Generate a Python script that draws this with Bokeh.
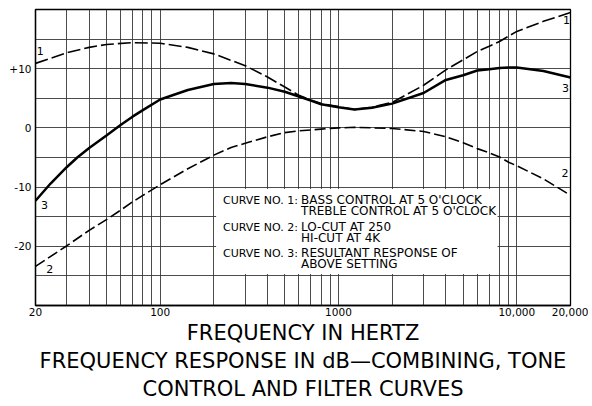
from bokeh.plotting import figure
from bokeh.models import FixedTicker, Range1d
from bokeh.core.properties import value
from bokeh.embed import file_html
from bokeh.resources import INLINE

# ---------------- data ----------------
curve1_freq = [20, 30, 40, 50, 70, 100, 143, 200, 250, 300, 400, 500, 600, 700, 800,
               1000, 1230, 1540, 2000, 3000, 4000, 5000, 6000, 7000, 8000, 9000, 10000, 14100, 20000]
curve1_db = [10.9, 12.7, 13.6, 14.1, 14.4, 14.3, 13.6, 12.5, 11.4, 10.5, 8.6, 6.9, 5.5, 4.7, 4.1,
             3.6, 3.1, 3.5, 4.3, 7.2, 9.8, 11.5, 12.9, 13.8, 14.6, 15.5, 16.3, 18.0, 19.5]

curve2_freq = [20, 30, 40, 50, 60, 70, 80, 100, 143, 200, 250, 300, 400, 500, 600, 800,
               1000, 1230, 2000, 3000, 4000, 5000, 6000, 7000, 8000, 9000, 10000, 14100, 20000]
curve2_db = [-23.4, -19.9, -17.3, -15.5, -13.9, -12.5, -11.4, -9.6, -6.9, -4.6, -3.3, -2.6, -1.5, -0.8, -0.5, -0.2,
             0.0, 0.1, -0.1, -0.6, -1.5, -2.5, -3.5, -4.2, -4.9, -5.8, -6.4, -8.6, -11.4]

curve3_freq = [20, 24.3, 30, 34.3, 40, 50, 60, 70, 80, 100, 143, 200, 250, 300, 400, 500, 600, 700, 800,
               1000, 1230, 1540, 2000, 3000, 4000, 5000, 6000, 7000, 8000, 9000, 10000, 14100, 20000]
curve3_db = [-12.3, -9.4, -6.6, -5.0, -3.4, -1.3, 0.5, 1.9, 3.0, 4.8, 6.4, 7.4, 7.6, 7.4, 6.8, 6.1, 5.3, 4.6, 4.0,
             3.5, 3.1, 3.4, 4.1, 5.9, 8.1, 8.9, 9.7, 9.9, 10.1, 10.2, 10.2, 9.6, 8.5]

x_tick_values = [20, 100, 1000, 10000, 20000]
x_tick_labels = ["20", "100", "1000", "10,000", "20,000"]
y_tick_values = [10, 0, -10, -20]
y_tick_labels = ["+10", "0", "-10", "-20"]
x_grid_values = [20, 30, 40, 50, 60, 70, 80, 90, 100, 200, 300, 400, 500, 600, 700, 800, 900,
                 1000, 2000, 3000, 4000, 5000, 6000, 7000, 8000, 9000, 10000, 20000]
y_grid_values = [-25, -20, -15, -10, -5, 0, 5, 10, 15]

legend_keys = ["CURVE NO. 1:", "CURVE NO. 2:", "CURVE NO. 3:"]
legend_lines = [["BASS CONTROL AT 5 O'CLOCK", "TREBLE CONTROL AT 5 O'CLOCK"],
                ["LO-CUT AT 250", "HI-CUT AT 4K"],
                ["RESULTANT RESPONSE OF", "ABOVE SETTING"]]

title_lines = ["FREQUENCY IN HERTZ",
               "FREQUENCY RESPONSE IN dB\u2014COMBINING, TONE",
               "CONTROL AND FILTER CURVES"]

# ---------------- figure ----------------
W, H = 588, 406
p = figure(width=W, height=H, x_axis_type="log",
           x_range=Range1d(20, 20000), y_range=Range1d(-30, 20),
           output_backend="svg", toolbar_location=None,
           min_border_left=35, min_border_right=18, min_border_top=9, min_border_bottom=101)

p.background_fill_color = "white"
p.border_fill_color = "white"
p.outline_line_color = "black"
p.outline_line_width = 1.3

GRID = "#383838"
p.xgrid.ticker = FixedTicker(ticks=x_grid_values)
p.ygrid.ticker = FixedTicker(ticks=y_grid_values)
for g in (p.xgrid, p.ygrid):
    g.grid_line_color = GRID
    g.grid_line_width = 1
    g.grid_line_alpha = 0.9

p.xaxis.ticker = FixedTicker(ticks=x_tick_values)
p.xaxis.major_label_overrides = {v: s for v, s in zip(x_tick_values, x_tick_labels)}
p.yaxis.ticker = FixedTicker(ticks=y_tick_values)
p.yaxis.major_label_overrides = {v: s for v, s in zip(y_tick_values, y_tick_labels)}
for ax in (p.xaxis, p.yaxis):
    ax.major_tick_out = 0
    ax.major_tick_in = 0
    ax.minor_tick_out = 0
    ax.minor_tick_in = 0
    ax.axis_line_color = "black"
    ax.axis_line_width = 1.3
    ax.major_label_text_font = "DejaVu Sans"
    ax.major_label_text_font_size = "10.5px"
    ax.major_label_text_color = "black"
p.xaxis.major_label_standoff = 2
p.yaxis.major_label_standoff = 4

# captions below the chart as the x axis label
p.xaxis.axis_label = "\n".join(title_lines)
p.xaxis.axis_label_text_font = "DejaVu Sans"
p.xaxis.axis_label_text_font_size = "21px"
p.xaxis.axis_label_text_font_style = "normal"
p.xaxis.axis_label_text_color = "black"
p.xaxis.axis_label_text_line_height = 1.17
p.xaxis.axis_label_standoff = 2
p.xaxis.axis_label_text_align = "center"

# legend box (white, covers grid)
p.quad(left=[206], right=[7800], top=[-10.3], bottom=[-24.7],
       fill_color="white", line_color=None)

# curves
p.line(curve1_freq, curve1_db, line_color="black", line_width=1.6, line_dash="13 4")
p.line(curve2_freq, curve2_db, line_color="black", line_width=1.6, line_dash="11 4")
p.line(curve3_freq, curve3_db, line_color="black", line_width=2.5)

# curve number labels
p.text(x=[20.3, 19900, 21.5, 19600, 23, 19500],
       y=[13.0, 18.2, -13.1, 6.8, -23.8, -7.6],
       text=["1", "1", "3", "3", "2", "2"],
       text_align=["left", "right", "left", "right", "left", "right"],
       text_baseline="middle", text_font=value("DejaVu Sans"),
       text_font_size="11px", text_color="black")

# legend texts
key_y = [-12.25, -16.8, -21.2]
line_dy = 1.87
p.text(x=[225] * 3, y=key_y, text=legend_keys, text_align="left", text_baseline="middle",
       text_font=value("DejaVu Sans"), text_font_size="11px", text_color="black")
desc_x, desc_y, desc_t = [], [], []
for ky, lines in zip(key_y, legend_lines):
    for i, t in enumerate(lines):
        desc_x.append(617)
        desc_y.append(ky - i * line_dy)
        desc_t.append(t)
p.text(x=desc_x, y=desc_y, text=desc_t, text_align="left", text_baseline="middle",
       text_font=value("DejaVu Sans"), text_font_size="12px", text_color="black")

open("out.html", "w").write(file_html(p, INLINE))
